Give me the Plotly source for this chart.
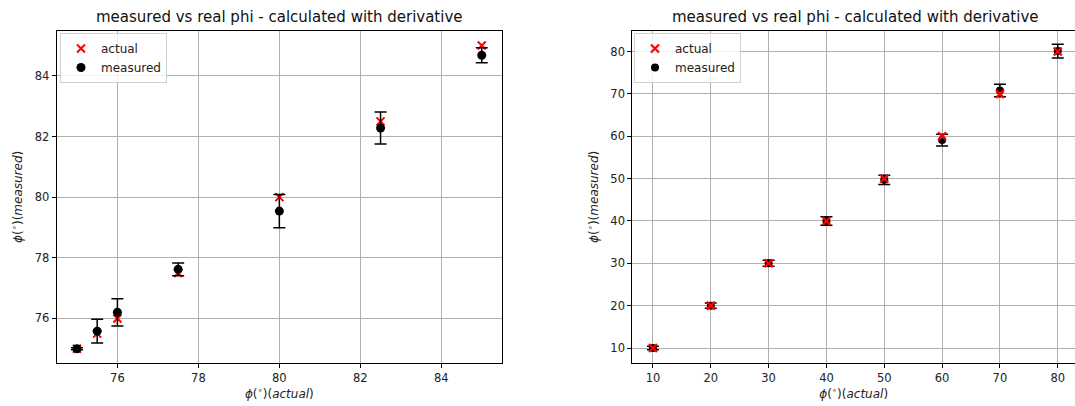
import plotly.graph_objects as go

# ---- data -------------------------------------------------------------
# narrow sweep (left panel)
phi_actual_fine = [75.0, 75.5, 76.0, 77.5, 80.0, 82.5, 85.0]
phi_measured_fine = [75.0, 75.58, 76.2, 77.62, 79.54, 82.28, 84.68]
phi_err_fine = [0.03, 0.39, 0.45, 0.21, 0.55, 0.53, 0.25]

# wide sweep (right panel)
phi_actual_wide = [10, 20, 30, 40, 50, 60, 70, 80]
phi_measured_wide = [10.0, 20.0, 30.0, 40.0, 49.7, 59.1, 70.8, 80.1]
phi_err_wide = [0.4, 0.6, 0.7, 1.0, 1.1, 1.4, 1.45, 1.65]

ticks_fine = [76, 78, 80, 82, 84]
ticks_wide = [10, 20, 30, 40, 50, 60, 70, 80]

TITLE = "measured vs real phi - calculated with derivative"
XLABEL = "<i>ϕ</i>(<sup>∘</sup>)(<i>actual</i>)"
YLABEL = "<i>ϕ</i>(<sup>∘</sup>)(<i>measured</i>)"

W, H = 1075, 406
FONT = "DejaVu Sans"

fig = go.Figure()

# left panel: error bars drawn above the crosses
fig.add_trace(go.Scatter(
    x=phi_actual_fine, y=phi_actual_fine, mode="markers", name="actual",
    marker=dict(symbol="x-thin", size=8, color="red", line=dict(color="red", width=2)),
    xaxis="x", yaxis="y", legend="legend",
))
fig.add_trace(go.Scatter(
    x=phi_actual_fine, y=phi_measured_fine, mode="markers", name="measured",
    marker=dict(symbol="circle", size=9, color="black"),
    error_y=dict(type="data", array=phi_err_fine, color="black", thickness=1.5, width=6),
    xaxis="x", yaxis="y", legend="legend",
))

# right panel
fig.add_trace(go.Scatter(
    x=phi_actual_wide, y=phi_measured_wide, mode="markers", name="measured",
    marker=dict(symbol="circle", size=8, color="black"),
    error_y=dict(type="data", array=phi_err_wide, color="black", thickness=1.5, width=6),
    xaxis="x2", yaxis="y2", legend="legend2",
))
fig.add_trace(go.Scatter(
    x=phi_actual_wide, y=phi_actual_wide, mode="markers", name="actual",
    marker=dict(symbol="x-thin", size=8, color="red", line=dict(color="red", width=2.2)),
    xaxis="x2", yaxis="y2", legend="legend2",
))

ydom = [(H - 362.7) / H, (H - 31) / H]
left_dom = [56.7 / W, 502 / W]
right_dom = [632.3 / W, 1.0]

axis_common = dict(
    showgrid=True, gridcolor="#b0b0b0", gridwidth=0.8,
    showline=True, linecolor="black", linewidth=1,
    ticks="outside", ticklen=4, tickcolor="black", tickwidth=1,
    tickfont=dict(family=FONT, size=11.5, color="#222"),
    zeroline=False,
)
label_font = dict(family=FONT, size=12, color="#222")
legend_common = dict(
    xanchor="left", yanchor="top",
    bgcolor="rgba(255,255,255,0.8)", bordercolor="#d0d0d0", borderwidth=1,
    font=dict(family=FONT, size=12, color="#222"),
    tracegroupgap=0, itemwidth=30,
)

fig.update_layout(
    width=W, height=H,
    margin=dict(l=0, r=0, t=0, b=0),
    paper_bgcolor="white", plot_bgcolor="white",
    font=dict(family=FONT, color="black"),
    xaxis=dict(domain=left_dom, range=[74.5, 85.5], tickvals=ticks_fine,
               mirror=True, anchor="y",
               title=dict(text=XLABEL, font=label_font, standoff=6),
               **axis_common),
    yaxis=dict(domain=ydom, range=[74.54, 85.48], tickvals=ticks_fine,
               mirror=True, anchor="x",
               title=dict(text=YLABEL, font=label_font, standoff=9),
               **axis_common),
    xaxis2=dict(domain=right_dom, range=[6.43, 82.98], tickvals=ticks_wide,
                mirror=True, anchor="y2",
                title=dict(text=XLABEL, font=label_font, standoff=6),
                **axis_common),
    yaxis2=dict(domain=ydom, range=[6.53, 84.85], tickvals=ticks_wide,
                mirror=False, anchor="x2",
                title=dict(text=YLABEL, font=label_font, standoff=9),
                **axis_common),
    legend=dict(x=60 / W, y=1 - 33 / H, traceorder="normal", **legend_common),
    legend2=dict(x=634 / W, y=1 - 33 / H, traceorder="reversed", **legend_common),
    showlegend=True,
    annotations=[
        dict(text=TITLE, x=279.4 / W, y=1 - 17 / H, xref="paper", yref="paper",
             xanchor="center", yanchor="middle", showarrow=False,
             font=dict(family=FONT, size=15, color="#111")),
        dict(text=TITLE, x=855 / W, y=1 - 17 / H, xref="paper", yref="paper",
             xanchor="center", yanchor="middle", showarrow=False,
             font=dict(family=FONT, size=15, color="#111")),
    ],
)

fig.write_html("out.html")
